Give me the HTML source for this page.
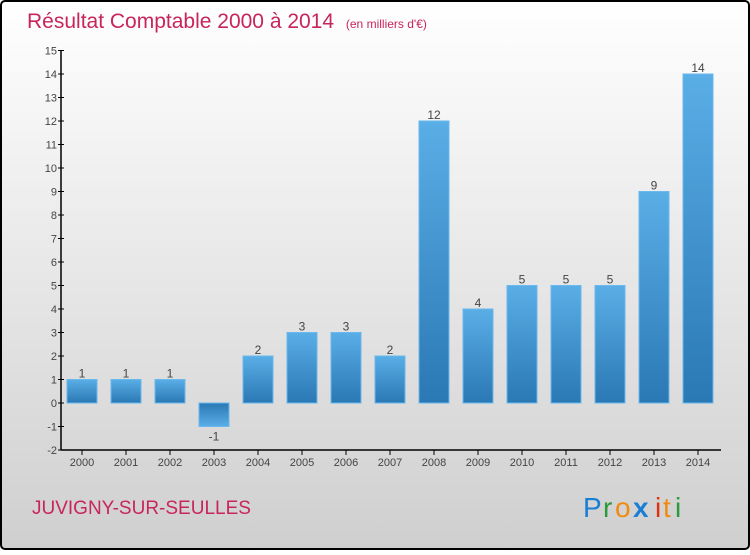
<!DOCTYPE html>
<html><head><meta charset="utf-8"><style>
html,body{margin:0;padding:0;}
body{width:750px;height:550px;overflow:hidden;font-family:"Liberation Sans",sans-serif;}
</style></head><body>
<svg width="750" height="550" xmlns="http://www.w3.org/2000/svg">
<defs>
<linearGradient id="bg" x1="0" y1="0" x2="0" y2="1"><stop offset="0" stop-color="#ffffff"/><stop offset="1" stop-color="#cfcfcf"/></linearGradient>
<linearGradient id="bp" x1="0" y1="0" x2="0" y2="1"><stop offset="0" stop-color="#5aaee6"/><stop offset="1" stop-color="#2a78b4"/></linearGradient>
<linearGradient id="bn" x1="0" y1="0" x2="0" y2="1"><stop offset="0" stop-color="#2a78b4"/><stop offset="1" stop-color="#5aaee6"/></linearGradient>
</defs>
<rect x="1" y="1" width="748" height="548" rx="4" fill="url(#bg)" stroke="#000" stroke-width="2"/>
<text x="27" y="28" font-size="21" fill="#c8255a">Résultat Comptable 2000 à 2014 <tspan font-size="12" dx="6">(en milliers d'€)</tspan></text>
<g id="axes"></g>
<g id="bars"></g>
<text x="32" y="514" font-size="19" fill="#c8255a">JUVIGNY-SUR-SEULLES</text>
<g font-size="28" font-family="'Liberation Sans',sans-serif">
<text x="583" y="517" fill="#1a7fd4">P</text><text x="603" y="517" fill="#2a9a3a">r</text><text x="615" y="517" fill="#f08a10">o</text><text x="633" y="517" fill="#1a7fd4" font-weight="bold">x</text><text x="655" y="517" fill="#e03010">i</text><text x="663" y="517" fill="#f08a10">t</text><text x="675" y="517" fill="#2a9a3a">i</text>
</g>
</svg>
<script>
const categories=["2000","2001","2002","2003","2004","2005","2006","2007","2008","2009","2010","2011","2012","2013","2014"];
const values=[1,1,1,-1,2,3,3,2,12,4,5,5,5,9,14];
const yTicks=[-2,-1,0,1,2,3,4,5,6,7,8,9,10,11,12,13,14,15];
const NS="http://www.w3.org/2000/svg";
const y=v=>403-v*23.5;
const x=i=>82+i*44;
function mk(t,a,p){const e=document.createElementNS(NS,t);for(const k in a)e.setAttribute(k,a[k]);p.appendChild(e);return e;}
const ax=document.getElementById('axes'),bg=document.getElementById('bars');
const yl=mk('line',{x1:61,y1:y(15),x2:61,y2:y(-2),stroke:'#000','stroke-width':1.5},ax);


const xl=mk('line',{x1:61,y1:y(-2),x2:721,y2:y(-2),stroke:'#000','stroke-width':1.5},ax);


yTicks.forEach(t=>{
 mk('line',{x1:58,y1:y(t),x2:64,y2:y(t),stroke:'#000'},ax);
 const tx=mk('text',{x:57,y:y(t)+4,'text-anchor':'end','font-size':11,fill:'#444'},ax);
 tx.textContent=t;
 
 
});
categories.forEach((c,i)=>{
 mk('line',{x1:x(i),y1:y(-2),x2:x(i),y2:y(-2)+5,stroke:'#000'},ax);
 const tx=mk('text',{x:x(i),y:466,'text-anchor':'middle','font-size':11,fill:'#444'},ax);
 tx.textContent=c;
 
 
 const v=values[i];
 const top=Math.min(y(v),y(0)),h=Math.abs(y(v)-y(0));
 const r=mk('rect',{x:x(i)-15,y:top,width:30,height:h,fill:v>=0?'url(#bp)':'url(#bn)',stroke:'#6ab8ee','stroke-width':1},bg);
 
 
 const lb=mk('text',{x:x(i),y:v>=0?y(v)-2:y(v)+14,'text-anchor':'middle','font-size':12,fill:'#444'},bg);
 lb.textContent=v;
 
 
});
</script>
</body></html>
